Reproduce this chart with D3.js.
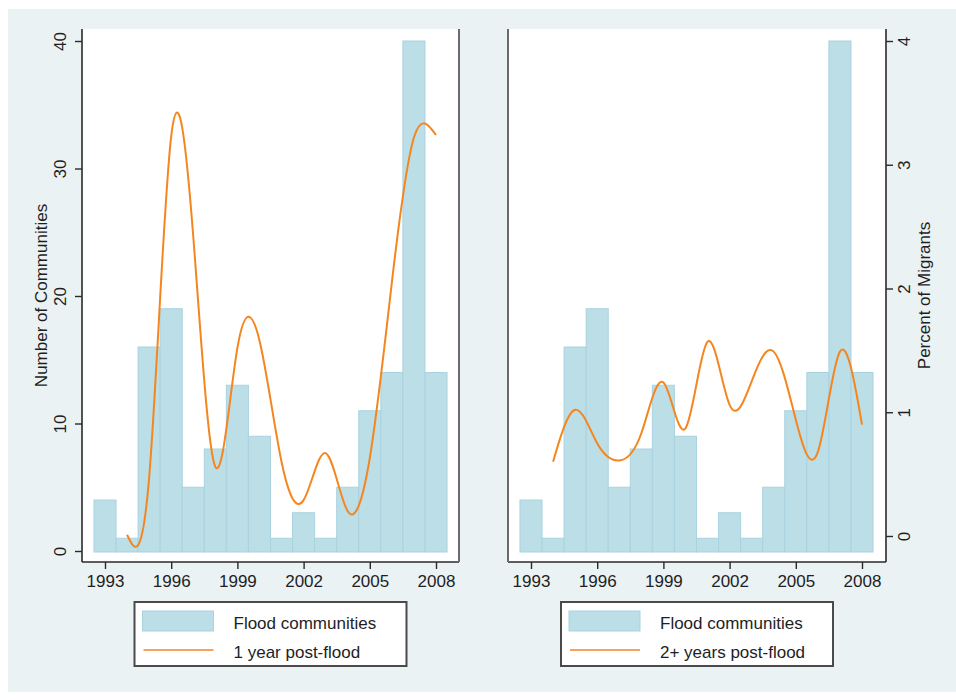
<!DOCTYPE html>
<html>
<head>
<meta charset="utf-8">
<script src="https://cdn.jsdelivr.net/npm/d3@7"></script>
<style>
  body { margin: 0; background: #ffffff; }
  text { font-family: "Liberation Sans", Arial, Helvetica, sans-serif; fill: #1e1e24; }
</style>
</head>
<body>
<svg id="chart" width="956" height="700"></svg>
<script>
// Flood communities per year (histogram bars, count axis)
const years = [1993, 1994, 1995, 1996, 1997, 1998, 1999, 2000, 2001, 2002, 2003, 2004, 2005, 2006, 2007, 2008];
const floodCommunities = [4, 1, 16, 19, 5, 8, 13, 9, 1, 3, 1, 5, 11, 14, 40, 14];

// Percent of migrants, smoothed line series
const curveYears = [1994, 1995, 1996, 1997, 1998, 1999, 2000, 2001, 2002, 2003, 2004, 2005, 2006, 2007, 2008];
const oneYearPostFlood = [0.01, 0.47, 3.23, 2.42, 0.56, 1.52, 1.58, 0.60, 0.29, 0.67, 0.20, 0.63, 2.05, 3.22, 3.24];
const twoPlusYearsPostFlood = [0.60, 1.02, 0.75, 0.61, 0.83, 1.24, 0.87, 1.57, 1.06, 1.25, 1.49, 0.94, 0.68, 1.49, 0.90];

// Axis ticks
const yearTicks = [1993, 1996, 1999, 2002, 2005, 2008];
const countTicks = [0, 10, 20, 30, 40];
const percentTicks = [0, 1, 2, 3, 4];

const legendBarLabel = "Flood communities";
const legendLineLabels = ["1 year post-flood", "2+ years post-flood"];

const svg = d3.select("#chart");
const BG = "#eaf2f3", BAR = "#bcdee7", BAR_EDGE = "#a9d3df", LINE = "#f5861f";
const FONT = 17;

// graph region background
svg.append("rect").attr("x", 8).attr("y", 9).attr("width", 948).attr("height", 683).attr("fill", BG);

const plotTop = 29, plotBottom = 562;
const countY = d3.scaleLinear().domain([0, 40]).range([551, 41]);
const pctY = d3.scaleLinear().domain([0, 4]).range([536, 41]);

const panels = [
  { left: 82, right: 459, series: oneYearPostFlood, label: legendLineLabels[0], side: "left" },
  { left: 508, right: 886, series: twoPlusYearsPostFlood, label: legendLineLabels[1], side: "right" }
];

panels.forEach(p => {
  const g = svg.append("g");
  const x = d3.scaleLinear().domain([1993, 2008]).range([p.left + 23, p.left + 354]);

  // plot region
  g.append("rect").attr("x", p.left).attr("y", plotTop)
    .attr("width", p.right - p.left).attr("height", plotBottom - plotTop).attr("fill", "#ffffff");

  // histogram bars
  g.append("g").selectAll("rect").data(years).join("rect")
    .attr("x", d => x(d - 0.5))
    .attr("width", d => x(d + 0.5) - x(d - 0.5))
    .attr("y", (d, i) => countY(floodCommunities[i]))
    .attr("height", (d, i) => countY(0) + 1 - countY(floodCommunities[i]))
    .attr("fill", BAR).attr("stroke", BAR_EDGE).attr("stroke-width", 1);

  // smoothed line
  const line = d3.line().x((d, i) => x(curveYears[i])).y(d => pctY(d)).curve(d3.curveNatural);
  g.append("path").datum(p.series).attr("d", line)
    .attr("fill", "none").attr("stroke", LINE).attr("stroke-width", 2);

  // x axis
  const xAxis = g.append("g").attr("transform", `translate(0,${plotBottom})`)
    .call(d3.axisBottom(x).tickValues(yearTicks).tickFormat(d3.format("d")).tickSize(7).tickSizeOuter(0));
  xAxis.select(".domain").attr("d", `M${p.left},0H${p.right}`).attr("stroke", "#2a2a2a").attr("stroke-width", 1.6);
  xAxis.selectAll(".tick line").attr("stroke", "#2a2a2a").attr("stroke-width", 1.4);
  xAxis.selectAll(".tick text").attr("y", 25).attr("dy", 0).attr("font-size", FONT).style("fill", "#1e1e24");

  // labelled y axis and the unlabelled border axis
  if (p.side === "left") {
    const yAxis = g.append("g").attr("transform", `translate(${p.left},0)`)
      .call(d3.axisLeft(countY).tickValues(countTicks).tickFormat(d3.format("d")).tickSize(7).tickSizeOuter(0));
    yAxis.select(".domain").attr("d", `M0,${plotTop}V${plotBottom}`).attr("stroke", "#2a2a2a").attr("stroke-width", 1.6);
    yAxis.selectAll(".tick line").attr("stroke", "#2a2a2a").attr("stroke-width", 1.4);
    yAxis.selectAll(".tick text").attr("transform", "rotate(-90)")
      .attr("x", 0).attr("y", -16).attr("dy", 0).attr("text-anchor", "middle")
      .attr("font-size", FONT).style("fill", "#1e1e24");
    g.append("line").attr("x1", p.right).attr("x2", p.right).attr("y1", plotTop).attr("y2", plotBottom)
      .attr("stroke", "#6b6b6b").attr("stroke-width", 2);
    g.append("text").attr("transform", `translate(47,${(plotTop + plotBottom) / 2}) rotate(-90)`)
      .attr("text-anchor", "middle").attr("font-size", FONT).text("Number of Communities");
  } else {
    const yAxis = g.append("g").attr("transform", `translate(${p.right},0)`)
      .call(d3.axisRight(pctY).tickValues(percentTicks).tickFormat(d3.format("d")).tickSize(7).tickSizeOuter(0));
    yAxis.select(".domain").attr("d", `M0,${plotTop}V${plotBottom}`).attr("stroke", "#2a2a2a").attr("stroke-width", 1.6);
    yAxis.selectAll(".tick line").attr("stroke", "#2a2a2a").attr("stroke-width", 1.4);
    yAxis.selectAll(".tick text").attr("transform", "rotate(-90)")
      .attr("x", 0).attr("y", 24).attr("dy", 0).attr("text-anchor", "middle")
      .attr("font-size", FONT).style("fill", "#1e1e24");
    g.append("line").attr("x1", p.left).attr("x2", p.left).attr("y1", plotTop).attr("y2", plotBottom)
      .attr("stroke", "#6b6b6b").attr("stroke-width", 2);
    g.append("text").attr("transform", `translate(930,${(plotTop + plotBottom) / 2}) rotate(-90)`)
      .attr("text-anchor", "middle").attr("font-size", FONT).text("Percent of Migrants");
  }

  // legend
  const lx = (p.left + p.right) / 2 - 136;
  const lg = g.append("g").attr("transform", `translate(${lx},602)`);
  lg.append("rect").attr("width", 272).attr("height", 64)
    .attr("fill", "#ffffff").attr("stroke", "#4a4a4a").attr("stroke-width", 2);
  lg.append("rect").attr("x", 8).attr("y", 9).attr("width", 71).attr("height", 20)
    .attr("fill", BAR).attr("stroke", BAR_EDGE).attr("stroke-width", 1);
  lg.append("line").attr("x1", 9).attr("x2", 79).attr("y1", 48).attr("y2", 48)
    .attr("stroke", "#f8a25e").attr("stroke-width", 2);
  lg.append("text").attr("x", 99).attr("y", 27).attr("font-size", FONT).text(legendBarLabel);
  lg.append("text").attr("x", 99).attr("y", 56).attr("font-size", FONT).text(p.label);
});
</script>
</body>
</html>
